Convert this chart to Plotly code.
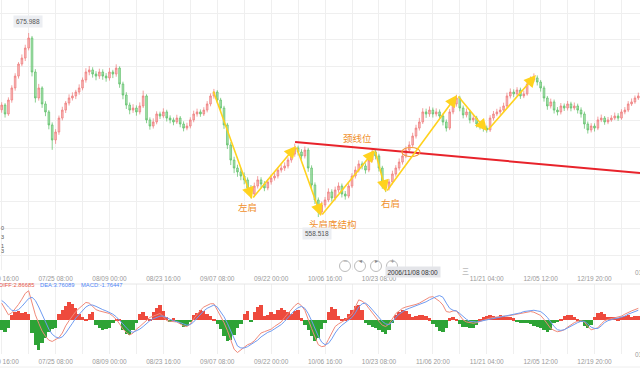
import plotly.graph_objects as go

W, H = 640, 369

# ---------------- data ----------------
opens = [627.0, 630.0, 624.3, 633.2, 640.9, 648.5, 656.2, 660.0, 666.4, 672.8,
 651.1, 634.5, 640.9, 630.7, 625.6, 617.3, 607.7, 612.8, 621.7, 626.8,
 631.3, 634.5, 635.8, 638.3, 640.9, 646.0, 651.1, 652.4, 649.8, 648.5,
 651.1, 648.5, 647.3, 651.1, 649.8, 653.6, 643.4, 636.4, 630.0, 626.8,
 628.1, 625.6, 629.4, 635.8, 620.5, 616.6, 619.2, 624.3, 623.0, 625.6,
 621.7, 620.5, 619.2, 621.7, 617.9, 615.3, 616.6, 620.5, 624.3, 625.6,
 624.3, 626.8, 630.7, 635.8, 638.3, 633.2, 628.1, 617.3, 604.5, 594.9,
 589.8, 587.3, 584.7, 582.2, 577.1, 573.2, 578.3, 582.2, 579.6, 577.1,
 580.9, 583.4, 584.7, 588.5, 589.8, 591.1, 594.9, 598.7, 602.6, 600.0,
 597.5, 601.3, 589.8, 579.0, 569.4, 561.7, 566.2, 569.4, 574.5, 570.7,
 575.8, 578.3, 573.2, 571.9, 578.3, 584.7, 588.5, 592.4, 591.1, 588.5,
 594.9, 600.0, 597.5, 589.8, 579.0, 577.1, 580.9, 586.0, 589.8, 593.6,
 597.5, 601.3, 604.5, 610.2, 615.3, 619.2, 625.6, 624.3, 626.8, 624.3,
 625.6, 623.0, 619.2, 615.3, 625.6, 630.7, 634.5, 628.1, 623.7, 625.6,
 620.5, 621.7, 617.9, 616.6, 615.3, 614.1, 621.7, 624.3, 625.6, 626.8,
 629.4, 635.8, 638.3, 637.1, 639.6, 635.8, 637.1, 643.4, 646.0, 647.3,
 644.7, 640.9, 634.5, 629.4, 632.0, 626.8, 625.6, 629.4, 628.1, 630.7,
 628.1, 629.4, 626.8, 624.3, 617.9, 614.1, 616.6, 615.3, 620.5, 621.7,
 619.2, 620.5, 621.7, 623.0, 621.7, 625.6, 626.8, 630.7, 632.0, 634.5]

highs = [631.8, 631.2, 634.9, 642.6, 650.3, 657.4, 662.3, 668.5, 676.0, 674.1,
 652.9, 643.5, 642.0, 632.4, 626.8, 618.9, 614.6, 623.3, 628.9, 632.6,
 636.8, 638.1, 639.7, 643.2, 647.6, 653.5, 654.9, 654.1, 651.6, 653.2,
 652.8, 650.4, 653.7, 652.5, 656.0, 654.7, 644.9, 638.2, 631.6, 630.5,
 629.8, 631.7, 639.2, 636.9, 622.1, 621.5, 626.0, 625.8, 627.9, 627.0,
 623.4, 622.0, 623.8, 623.0, 619.6, 618.7, 622.2, 626.4, 627.7, 627.2,
 628.6, 632.5, 637.4, 640.3, 639.5, 634.6, 629.5, 618.6, 606.3, 597.0,
 591.9, 589.6, 587.0, 583.8, 578.9, 580.5, 584.6, 583.9, 581.4, 582.8,
 585.7, 587.0, 590.3, 592.0, 593.4, 596.6, 600.9, 605.4, 604.1, 601.8,
 603.5, 602.7, 591.5, 580.6, 571.0, 568.4, 571.3, 576.8, 576.2, 577.9,
 580.6, 579.9, 575.1, 580.2, 586.5, 590.8, 594.7, 594.0, 592.8, 596.8,
 602.5, 601.6, 598.9, 591.2, 580.8, 582.7, 588.1, 591.6, 595.9, 599.3,
 603.6, 606.8, 612.3, 617.4, 621.8, 628.0, 627.7, 629.1, 628.4, 627.9,
 627.2, 624.6, 620.8, 627.4, 632.8, 636.6, 635.9, 629.7, 627.8, 627.0,
 623.9, 623.1, 619.8, 618.2, 616.9, 623.5, 626.2, 627.6, 628.9, 631.5,
 637.9, 640.6, 640.0, 641.4, 641.1, 639.2, 645.3, 648.2, 650.2, 648.9,
 646.0, 642.3, 635.8, 634.1, 633.5, 628.7, 631.3, 631.0, 632.6, 632.1,
 631.6, 630.9, 628.5, 625.8, 619.5, 618.4, 618.3, 622.6, 623.9, 623.0,
 622.4, 623.5, 625.2, 624.8, 627.3, 628.7, 632.5, 634.2, 636.1, 637.9]

lows = [625.1, 622.0, 623.1, 631.5, 639.2, 646.9, 654.8, 658.1, 664.9, 648.3,
 631.6, 632.8, 628.2, 622.9, 614.5, 601.4, 605.2, 611.0, 620.2, 624.9,
 629.7, 632.9, 633.8, 636.6, 639.4, 644.3, 649.0, 647.5, 645.8, 646.7,
 646.1, 644.9, 645.6, 647.2, 648.1, 641.0, 633.7, 627.5, 624.1, 625.0,
 623.2, 624.0, 628.1, 618.4, 614.3, 615.0, 617.7, 621.1, 621.6, 619.5,
 618.3, 617.1, 617.9, 615.8, 613.2, 613.9, 615.1, 619.0, 622.6, 622.5,
 623.0, 625.3, 629.2, 634.1, 631.0, 625.7, 614.8, 601.9, 591.7, 586.5,
 584.2, 582.0, 579.4, 574.6, 570.4, 571.6, 576.7, 577.3, 575.0, 575.6,
 579.2, 581.8, 583.1, 586.9, 588.0, 589.5, 593.2, 597.0, 597.8, 595.2,
 595.9, 587.4, 576.3, 566.8, 558.5, 560.1, 564.6, 568.0, 568.4, 569.1,
 574.0, 571.0, 569.6, 570.5, 577.0, 583.1, 587.0, 588.9, 586.2, 587.1,
 593.4, 595.3, 587.6, 576.6, 574.4, 575.5, 579.4, 584.3, 588.2, 592.0,
 596.1, 599.7, 603.0, 608.6, 613.7, 617.9, 621.8, 622.5, 622.0, 622.7,
 620.9, 617.0, 613.1, 614.0, 624.1, 629.0, 626.0, 621.5, 622.1, 618.3,
 619.0, 615.6, 614.4, 613.0, 612.4, 612.8, 620.1, 622.9, 623.8, 625.2,
 628.0, 634.2, 635.0, 635.7, 633.9, 634.4, 636.0, 642.1, 644.6, 642.5,
 638.6, 632.2, 627.0, 627.8, 624.6, 623.4, 624.0, 626.2, 626.5, 626.0,
 626.7, 624.6, 622.0, 614.9, 611.8, 612.5, 613.1, 614.0, 619.1, 617.4,
 617.8, 619.3, 620.4, 619.9, 620.6, 624.1, 625.5, 629.4, 630.8, 633.2]

closes = [630.0, 624.3, 633.2, 640.9, 648.5, 656.2, 660.0, 666.4, 672.8, 651.1,
 634.5, 640.9, 630.7, 625.6, 617.3, 607.7, 612.8, 621.7, 626.8, 631.3,
 634.5, 635.8, 638.3, 640.9, 646.0, 651.1, 652.4, 649.8, 648.5, 651.1,
 648.5, 647.3, 651.1, 649.8, 653.6, 643.4, 636.4, 630.0, 626.8, 628.1,
 625.6, 629.4, 635.8, 620.5, 616.6, 619.2, 624.3, 623.0, 625.6, 621.7,
 620.5, 619.2, 621.7, 617.9, 615.3, 616.6, 620.5, 624.3, 625.6, 624.3,
 626.8, 630.7, 635.8, 638.3, 633.2, 628.1, 617.3, 604.5, 594.9, 589.8,
 587.3, 584.7, 582.2, 577.1, 573.2, 578.3, 582.2, 579.6, 577.1, 580.9,
 583.4, 584.7, 588.5, 589.8, 591.1, 594.9, 598.7, 602.6, 600.0, 597.5,
 601.3, 589.8, 579.0, 569.4, 561.7, 566.2, 569.4, 574.5, 570.7, 575.8,
 578.3, 573.2, 571.9, 578.3, 584.7, 588.5, 592.4, 591.1, 588.5, 594.9,
 600.0, 597.5, 589.8, 579.0, 577.1, 580.9, 586.0, 589.8, 593.6, 597.5,
 601.3, 604.5, 610.2, 615.3, 619.2, 625.6, 624.3, 626.8, 624.3, 625.6,
 623.0, 619.2, 615.3, 625.6, 630.7, 634.5, 628.1, 623.7, 625.6, 620.5,
 621.7, 617.9, 616.6, 615.3, 614.1, 621.7, 624.3, 625.6, 626.8, 629.4,
 635.8, 638.3, 637.1, 639.6, 635.8, 637.1, 643.4, 646.0, 647.3, 644.7,
 640.9, 634.5, 629.4, 632.0, 626.8, 625.6, 629.4, 628.1, 630.7, 628.1,
 629.4, 626.8, 624.3, 617.9, 614.1, 616.6, 615.3, 620.5, 621.7, 619.2,
 620.5, 621.7, 623.0, 621.7, 625.6, 626.8, 630.7, 632.0, 634.5, 635.8]

macd_hist = [-1.6, -1.8, -1.2, 0.8, 1.2, 1.4, 1.1, 1.3, 0.9, -2.0,
 -3.8, -4.6, -3.6, -2.8, -1.8, -1.4, -1.3, 0.9, 1.6, 2.2,
 2.8, 2.5, 1.8, 1.0, 0.4, 0.2, 1.0, 1.2, -0.8, -1.2,
 -1.5, -1.4, -1.2, -0.5, 0.2, 0.1, -1.6, -2.1, -2.3, -1.5,
 -0.4, 0.9, 1.2, 0.6, 0.1, 1.2, 1.8, 2.3, 1.4, 0.4,
 -0.2, 0.3, -0.3, -0.6, -1.0, -0.9, -0.3, 0.8, 1.1, 1.5,
 1.4, 1.0, 0.6, 0.1, -0.6, -1.4, -2.4, -3.3, -3.0, -2.3,
 -1.2, -0.6, 1.0, 1.4, -0.2, 1.2, 2.0, 2.3, 0.6, 0.8,
 1.2, 1.0, 1.5, 1.8, 1.6, 1.2, 0.9, 1.4, 1.6, 0.3,
 -0.8, -1.5, -2.4, -3.3, -2.8, -1.4, -0.4, 1.2, 2.0, 1.7,
 0.6, 0.2, 0.3, 0.9, 1.5, 2.1, 2.3, 1.6, -0.4, -0.8,
 -1.1, -1.3, -1.5, -1.9, -2.1, -1.6, -0.5, 0.7, 1.2, 1.5,
 1.4, 0.9, 0.4, 0.6, 0.8, 0.7, 0.6, 0.3, -0.6, -1.0,
 -1.76, -1.8, -1.2, 0.3, 0.5, 0.2, -0.6, -1.0, -1.1, -1.3,
 -1.2, -0.8, 0.2, 0.5, 0.6, 0.7, 0.6, 0.5, 0.7, 0.6,
 0.5, 0.4, 0.3, -0.2, -0.4, -0.5, -0.4, -0.6, -0.9, -1.0,
 -1.3, -1.6, -1.8, -1.5, -0.4, -0.2, 0.2, 0.6, 0.8, 0.7,
 0.5, 0.2, -0.3, -0.9, -1.2, -0.8, 0.4, 1.1, 1.3, 0.9,
 0.5, 0.4, 0.5, 0.3, 0.5, 0.6, 0.7, 0.5, 0.6, 0.6]

diff_line = [2.6, 1.6, 0.8, 1.1, 1.7, 2.4, 3.2, 4.1, 4.5, 2.6,
 0.8, -0.5, -1.7, -2.5, -3.1, -3.3, -3.0, -2.7, -2.0, -0.9,
 -0.1, 0.6, 1.3, 1.8, 2.3, 2.7, 2.6, 2.1, 1.6, 1.4,
 1.3, 1.1, 1.0, 0.6, 0.1, -0.6, -1.4, -1.9, -2.3, -2.0,
 -1.4, -1.0, -0.5, 0.0, 0.4, 0.6, 0.8, 1.0, 0.5, -0.1,
 -0.2, -0.2, -0.3, -0.6, -0.9, -1.0, -0.6, 0.2, 0.9, 1.5,
 2.0, 2.3, 2.5, 2.5, 1.6, 0.6, -0.4, -1.6, -3.0, -4.5,
 -5.0, -4.6, -4.1, -3.8, -3.6, -3.2, -2.6, -2.0, -1.8, -1.6,
 -1.4, -1.0, -0.7, -0.3, 0.4, 1.0, 1.6, 2.2, 2.6, 2.2,
 1.5, 0.0, -1.3, -2.6, -3.8, -4.1, -4.0, -3.0, -2.0, -1.0,
 -0.6, -0.3, 0.0, 0.5, 0.9, 2.0, 3.1, 2.9, 2.5, 1.8,
 1.1, 0.5, -0.2, -0.8, -1.0, -0.6, 0.2, 1.0, 1.4, 1.8,
 2.0, 2.1, 2.3, 2.4, 2.6, 2.9, 3.2, 3.5, 3.6, 3.3,
 2.87, 2.3, 1.3, 1.2, 1.4, 1.4, 0.6, 0.0, -0.3, -0.4,
 -0.5, -0.4, -0.2, 0.0, 0.1, 0.3, 0.4, 0.5, 0.5, 0.6,
 0.6, 0.7, 0.8, 0.9, 1.0, 1.1, 1.2, 1.3, 1.2, 1.0,
 0.7, 0.1, -0.7, -1.3, -1.6, -1.8, -1.7, -1.5, -1.1, -0.7,
 -0.4, -0.2, -0.1, -0.3, -1.0, -1.5, -1.4, -1.2, -0.6, -0.1,
 0.1, 0.2, 0.3, 0.4, 0.6, 0.9, 1.2, 1.4, 1.6, 1.8]

dea_line = [3.0, 2.6, 2.0, 1.5, 1.4, 1.6, 2.1, 2.7, 3.3, 3.5,
 3.0, 2.0, 0.8, -0.4, -1.4, -2.2, -2.6, -2.8, -2.6, -2.0,
 -1.3, -0.5, 0.3, 0.9, 1.5, 2.0, 2.3, 2.3, 2.1, 1.8,
 1.6, 1.4, 1.2, 0.9, 0.5, 0.0, -0.6, -1.2, -1.7, -1.9,
 -1.7, -1.4, -1.0, -0.5, -0.1, 0.2, 0.4, 0.6, 0.6, 0.3,
 0.1, -0.1, -0.2, -0.4, -0.6, -0.8, -0.7, -0.3, 0.3, 0.9,
 1.4, 1.8, 2.1, 2.3, 2.0, 1.3, 0.5, -0.5, -1.7, -3.0,
 -4.0, -4.3, -4.3, -4.1, -3.8, -3.5, -3.1, -2.6, -2.2, -1.9,
 -1.7, -1.4, -1.1, -0.7, -0.2, 0.4, 1.0, 1.5, 1.9, 2.1,
 1.8, 1.0, -0.1, -1.3, -2.5, -3.4, -3.8, -3.6, -2.9, -2.0,
 -1.3, -0.8, -0.4, 0.0, 0.4, 1.1, 2.0, 2.5, 2.6, 2.2,
 1.6, 1.0, 0.4, -0.2, -0.6, -0.7, -0.3, 0.4, 0.9, 1.3,
 1.6, 1.8, 2.0, 2.1, 2.3, 2.5, 2.8, 3.1, 3.4, 3.6,
 3.76, 3.5, 2.6, 1.8, 1.5, 1.4, 1.0, 0.5, 0.1, -0.2,
 -0.3, -0.3, -0.2, -0.1, 0.0, 0.1, 0.2, 0.3, 0.4, 0.5,
 0.6, 0.7, 0.8, 1.0, 1.1, 1.3, 1.4, 1.5, 1.5, 1.4,
 1.3, 0.9, 0.4, -0.3, -1.0, -1.5, -1.6, -1.5, -1.2, -0.9,
 -0.6, -0.4, -0.2, -0.2, -0.6, -1.1, -1.3, -1.3, -0.9, -0.4,
 -0.1, 0.1, 0.2, 0.3, 0.4, 0.6, 0.9, 1.1, 1.3, 1.5]

tick_labels = ["07/10 16:00", "07/25 08:00", "08/09 00:00", "08/23 16:00",
               "09/07 08:00", "09/22 00:00", "10/06 16:00", "10/23 08:00",
               "11/06 20:00", "11/21 04:00", "12/05 12:00", "12/19 20:00",
               "01/03 04:00"]

# head-and-shoulders zigzag pivots (candle index, price)
pattern_x = [62.7, 74.3, 87.4, 94.8, 110.8, 114.1, 135.2, 144.1, 158.6]
pattern_y = [639.6, 570.0, 603.9, 559.2, 601.3, 574.5, 636.4, 613.4, 649.2]

# neckline (candle index, price)
neck_x = [87.1, 189.5]
neck_y = [606.4, 586.6]

# breakout ring centre (candle index, price)
ring_x, ring_y = 121.5, 600.0

label_text = ["左肩", "颈线位", "头肩底结构", "右肩"]
label_x = [73.1, 105.5, 98.4, 115.3]
label_y = [564.9, 609.0, 553.9, 567.5]

extreme_text = ["675.988", "558.518"]
extreme_x = [7.8, 93.6]
extreme_y = [683.6, 548.0]

legend_text = ["DIFF:2.86685", "DEA:3.76089", "MACD:-1.76447"]
cursor_label = "2006/11/08 08:00"
cursor_hidden_tick = 128          # main-axis tick covered by the cursor label
tooltip_tail = ["0", "3", "1", "3"]

# ---------------- figure ----------------
idx = list(range(len(closes)))

def py(p):  # pixel row -> paper y
    return 1 - p / H

def px(p):
    return p / W

fig = go.Figure()

fig.add_trace(go.Candlestick(
    x=idx, open=opens, high=highs, low=lows, close=closes,
    increasing=dict(line=dict(color="rgba(238,120,120,0.7)", width=1),
                    fillcolor="rgba(244,160,160,0.7)"),
    decreasing=dict(line=dict(color="rgba(90,190,100,0.7)", width=1),
                    fillcolor="rgba(140,215,150,0.7)"),
    whiskerwidth=0, hoverinfo="skip", xaxis="x", yaxis="y"))

fig.add_trace(go.Scatter(x=neck_x, y=neck_y, mode="lines",
                         line=dict(color="#e8232b", width=2),
                         hoverinfo="skip", xaxis="x", yaxis="y"))

hist_colors = ["#ee4a3d" if v >= 0 else "#2ea336" for v in macd_hist]
fig.add_trace(go.Bar(x=idx, y=macd_hist, marker=dict(color=hist_colors, line=dict(width=0)),
                     width=1.0, hoverinfo="skip", xaxis="x2", yaxis="y2"))
fig.add_trace(go.Scatter(x=idx, y=diff_line, mode="lines",
                         line=dict(color="#f08a7a", width=1),
                         hoverinfo="skip", xaxis="x2", yaxis="y2"))
fig.add_trace(go.Scatter(x=idx, y=dea_line, mode="lines",
                         line=dict(color="#6f9cf2", width=1),
                         hoverinfo="skip", xaxis="x2", yaxis="y2"))

tickvals = list(range(0, 190, 8))
ticktext = [tick_labels[v // 16] if v % 16 == 0 else "" for v in tickvals]
ticktext_main = ["" if v == cursor_hidden_tick else t for v, t in zip(tickvals, ticktext)]

FONT = "Liberation Sans, Arial, sans-serif"
axis_font = dict(family=FONT, size=6.5, color="#9a9a9a")
grid = "#efefef"

fig.update_layout(
    width=W, height=H, margin=dict(l=0, r=0, t=0, b=0, autoexpand=False),
    paper_bgcolor="white", plot_bgcolor="white", showlegend=False,
    bargap=0,
    xaxis=dict(domain=[0, 1], anchor="y", range=[-0.5, 189.5], automargin=False,
               tickmode="array", tickvals=tickvals, ticktext=ticktext_main,
               showgrid=True, gridcolor=grid, gridwidth=1, ticks="",
               tickfont=axis_font, ticklabeloverflow="allow", ticklabelstandoff=3,
               zeroline=False, showline=False,
               rangeslider=dict(visible=False)),
    yaxis=dict(domain=[1 - 270 / H, 1], anchor="x", range=[524.69, 697.06],
               automargin=False,
               tick0=688.76, dtick=17.17, showgrid=True, gridcolor=grid,
               showticklabels=False, zeroline=False, showline=False),
    xaxis2=dict(domain=[0, 1], anchor="y2", range=[-0.5, 189.5], automargin=False,
                tickmode="array", tickvals=tickvals, ticktext=ticktext,
                showgrid=True, gridcolor=grid, ticks="", tickfont=axis_font,
                ticklabeloverflow="allow", ticklabelstandoff=2,
                zeroline=False, showline=False),
    yaxis2=dict(domain=[1 - 354 / H, 1 - 284 / H], anchor="x2", automargin=False,
                range=[-5.23, 5.54], showgrid=False, showticklabels=False,
                zeroline=False, showline=False),
)

ann = []
# zigzag arrows
for k in range(len(pattern_x) - 1):
    ann.append(dict(x=pattern_x[k + 1], y=pattern_y[k + 1], ax=pattern_x[k], ay=pattern_y[k],
                    xref="x", yref="y", axref="x", ayref="y", text="", showarrow=True,
                    arrowhead=2, arrowsize=1.5, arrowwidth=1.6, arrowcolor="#ffd21e",
                    standoff=0, startstandoff=0))
# chinese labels
for t, x, y in zip(label_text, label_x, label_y):
    ann.append(dict(x=x, y=y, xref="x", yref="y", text=t, showarrow=False,
                    font=dict(family="Noto Sans CJK SC", size=9.5, color="#f0902c")))
# extreme value boxes
for t, x, y in zip(extreme_text, extreme_x, extreme_y):
    ann.append(dict(x=x, y=y, xref="x", yref="y", text=t, showarrow=False,
                    bgcolor="#eceef2", borderpad=2,
                    font=dict(family=FONT, size=6.5, color="#555")))
# the "01/03" label beyond the right edge (partly visible)
for yy in [277.5, 360]:
    ann.append(dict(x=px(633), y=py(yy), xref="paper", yref="paper", text=tick_labels[-1],
                    xanchor="left", showarrow=False, font=axis_font))
# MACD legend
for t, x0, c in zip(legend_text, [-3, 38, 79], ["#e8584a", "#4f86f7", "#4f86f7"]):
    ann.append(dict(x=px(x0), y=py(290), xref="paper", yref="paper", text=t,
                    xanchor="left", showarrow=False,
                    font=dict(family=FONT, size=5.8, color=c)))
# cut-off tooltip values at left
for t, yy in zip(tooltip_tail, [228, 237, 246, 255]):
    ann.append(dict(x=px(4.5), y=py(yy), xref="paper", yref="paper", text=t,
                    xanchor="right", showarrow=False, borderpad=0,
                    font=dict(family=FONT, size=5.5, color="#555")))
# cursor axis label
ann.append(dict(x=px(441), y=py(278), xref="paper", yref="paper", text=cursor_label,
                showarrow=False, bgcolor="#e4e5e9", borderpad=1.5,
                font=dict(family=FONT, size=6.5, color="#333")))
ann.append(dict(x=px(471), y=py(278), xref="paper", yref="paper", text="三",
                showarrow=False, font=dict(family="Noto Sans CJK SC", size=7, color="#999")))
# zoom buttons
for t, cx in zip(["−", "◂", "▸", "+"], [345, 360, 376, 392]):
    ann.append(dict(x=px(cx), y=py(266), xref="paper", yref="paper", text=t,
                    showarrow=False, font=dict(family="DejaVu Sans", size=6, color="#888")))
fig.update_layout(annotations=ann)

shapes = []
shapes.append(dict(type="circle", xref="x", yref="y",
                   x0=ring_x - 2.7, x1=ring_x + 2.7, y0=ring_y - 2.9, y1=ring_y + 2.9,
                   line=dict(color="#f39a3c", width=1.2)))
for cx in [345, 360, 376, 392]:
    shapes.append(dict(type="circle", xref="paper", yref="paper",
                       x0=px(cx - 5.5), x1=px(cx + 5.5), y0=py(266 + 5.5), y1=py(266 - 5.5),
                       line=dict(color="#aaaaaa", width=0.8)))
shapes.append(dict(type="line", xref="paper", yref="paper", x0=0, x1=1,
                   y0=py(284), y1=py(284), line=dict(color="#e6e6e6", width=1)))
shapes.append(dict(type="line", xref="paper", yref="paper", x0=0, x1=1,
                   y0=py(367), y1=py(367), line=dict(color="#eeeeee", width=1)))
fig.update_layout(shapes=shapes)

fig.write_html("out.html", config={"displayModeBar": False},
               post_script="document.body.style.margin='0px';")
